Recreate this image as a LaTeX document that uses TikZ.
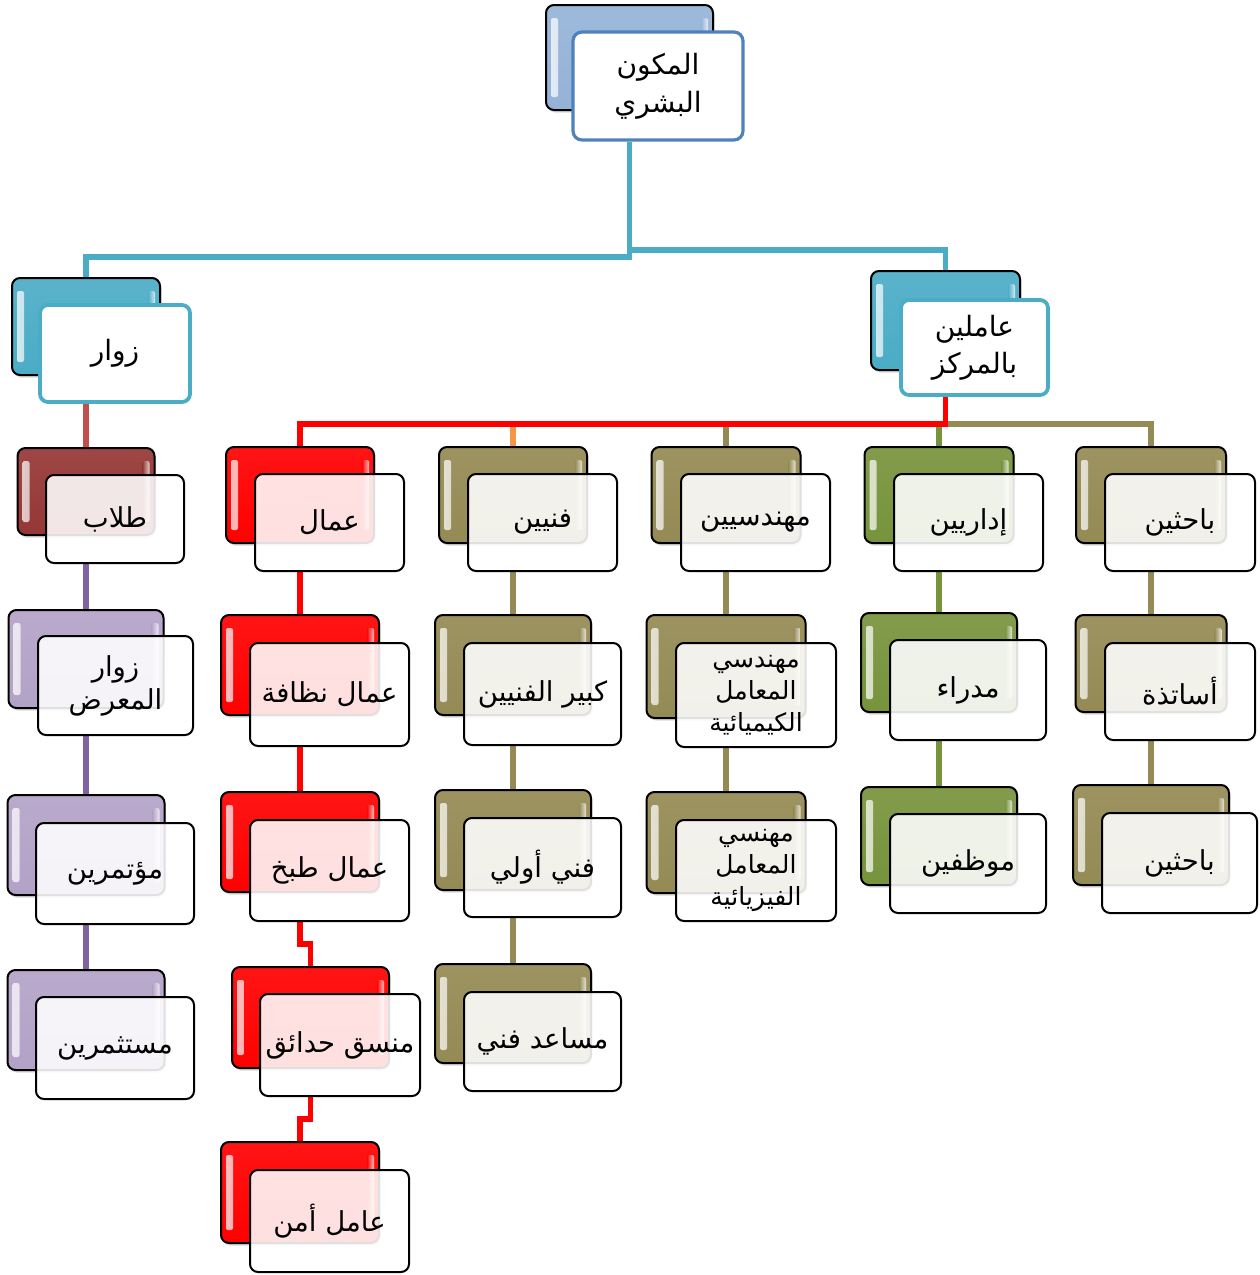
\documentclass[tikz,border=0pt]{standalone}
\usepackage{fontspec}
\TeXXeTstate=1
\newfontfamily\arfont[Script=Arabic]{DejaVu Sans}
\usetikzlibrary{shadows}
\pgfdeclarelayer{edges}
\pgfsetlayers{edges,main}

\definecolor{ctopblue}{HTML}{95B3D7}
\definecolor{ctopedge}{HTML}{4F81BD}
\definecolor{cteal}{HTML}{4BACC6}
\definecolor{cdarkred}{HTML}{953735}
\definecolor{cbrick}{HTML}{C0504D}
\definecolor{cpurple}{HTML}{8064A2}
\definecolor{clavender}{HTML}{B3A2C7}
\definecolor{cred}{HTML}{FF0000}
\definecolor{colive}{HTML}{948A54}
\definecolor{cgreen}{HTML}{77933C}
\definecolor{corange}{HTML}{F79646}

\newcommand\artext[1]{\beginR #1\endR}
\newcommand\backunit[5]{\node[backbox=#1,minimum width=#4pt,minimum height=#5pt] (#2) at (#3) {};}
\newcommand\frontunit[6]{\node[#1,minimum width=#4pt,minimum height=#5pt] (#2) at (#3) {#6};}

\tikzset{
  backbox/.style={draw=black, line width=2pt, rounded corners=8pt, inner sep=0pt,
    top color=#1!92!white, bottom color=#1,
    drop shadow={opacity=0.3, shadow xshift=1.5pt, shadow yshift=-2.5pt},
    path picture={
      \shade[left color=white, right color=#1, opacity=0.75, rounded corners=2pt]
        ([xshift=5pt,yshift=-13pt]path picture bounding box.north west) rectangle
        ([xshift=12pt,yshift=13pt]path picture bounding box.south west);
      \shade[left color=#1, right color=white, opacity=0.75, rounded corners=2pt]
        ([xshift=-12pt,yshift=-13pt]path picture bounding box.north east) rectangle
        ([xshift=-5pt,yshift=13pt]path picture bounding box.south east);
    }},
  frontbox/.style={draw=black, line width=2pt, rounded corners=8pt, fill=white,
    fill opacity=0.88, text opacity=1, inner sep=0pt, align=center,
    font=\arfont\fontsize{27.5}{33}\selectfont},
  smallfront/.style={frontbox, font=\arfont\fontsize{25}{32}\selectfont},
  rootfront/.style={draw=ctopedge, line width=3.2pt, rounded corners=9pt, fill=white,
    inner sep=0pt, align=center, font=\arfont\fontsize{28}{38}\selectfont},
  headfront/.style={draw=cteal, line width=3.8pt, rounded corners=8pt, fill=white,
    inner sep=0pt, align=center, font=\arfont\fontsize{28}{37}\selectfont},
  conn/.style={draw=#1, line width=5.5pt},
}

\begin{document}
\begin{tikzpicture}[x=1pt, y=-1pt]
\useasboundingbox (0,0) rectangle (1259,1275);

% root
\backunit{ctopblue}{top-b}{629.5,57.5}{167}{105}
\frontunit{rootfront}{top-f}{658,86}{170}{108}{\artext{المكون}\\\artext{البشري}}

% first level
\backunit{cteal}{zw-b}{86,326.5}{148}{97}
\frontunit{headfront}{zw-f}{115,353.5}{150}{97}{\artext{زوار}}
\backunit{cteal}{am-b}{945.5,320.5}{149}{99}
\frontunit{headfront}{am-f}{974.5,347.5}{147}{95}{\artext{عاملين}\\\artext{بالمركز}}

% visitors column
\backunit{cdarkred}{tl-b}{86,491.5}{137}{87}
\frontunit{frontbox}{tl-f}{115,519}{138}{88}{\artext{طلاب}}
\backunit{clavender}{zm-b}{86,659}{155}{98}
\frontunit{frontbox}{zm-f}{115.5,685.5}{155}{99}{\artext{زوار}\\\artext{المعرض}}
\backunit{clavender}{mt-b}{86,845}{157}{100}
\frontunit{frontbox}{mt-f}{115,873.5}{158}{101}{\artext{مؤتمرين}}
\backunit{clavender}{ms-b}{86,1020}{157}{100}
\frontunit{frontbox}{ms-f}{115,1048}{158}{102}{\artext{مستثمرين}}

% staff groups
\backunit{cred}{aml-b}{300,495}{148}{96}
\frontunit{frontbox}{aml-f}{329.5,522.5}{149}{97}{\artext{عمال}}
\backunit{colive}{fn-b}{513,495}{148}{96}
\frontunit{frontbox}{fn-f}{542.5,522.5}{149}{97}{\artext{فنيين}}
\backunit{colive}{mh-b}{726,495}{149}{96}
\frontunit{frontbox}{mh-f}{755.5,522.5}{149}{97}{\artext{مهندسيين}}
\backunit{cgreen}{id-b}{939,495}{149}{96}
\frontunit{frontbox}{id-f}{968.5,522.5}{149}{97}{\artext{إداريين}}
\backunit{colive}{bh-b}{1151,495}{150}{96}
\frontunit{frontbox}{bh-f}{1180,522.5}{150}{97}{\artext{باحثين}}

% workers column
\backunit{cred}{nz-b}{300,665}{158}{100}
\frontunit{frontbox}{nz-f}{329.5,694.5}{159}{103}{\artext{عمال نظافة}}
\backunit{cred}{tb-b}{300,842}{158}{100}
\frontunit{frontbox}{tb-f}{329.5,870.5}{159}{101}{\artext{عمال طبخ}}
\backunit{cred}{hd-b}{310.5,1017.5}{157}{101}
\frontunit{frontbox}{hd-f}{340,1045}{160}{102}{\artext{منسق حدائق}}
\backunit{cred}{amn-b}{300,1192.5}{158}{101}
\frontunit{frontbox}{amn-f}{329.5,1221}{159}{102}{\artext{عامل أمن}}

% technicians column
\backunit{colive}{kb-b}{513,665}{156}{100}
\frontunit{frontbox}{kb-f}{542.5,694}{157}{102}{\artext{كبير الفنيين}}
\backunit{colive}{aw-b}{513,840}{156}{100}
\frontunit{frontbox}{aw-f}{542.5,867.5}{157}{99}{\artext{فني أولي}}
\backunit{colive}{sd-b}{513,1013.5}{156}{99}
\frontunit{frontbox}{sd-f}{542.5,1041.5}{157}{99}{\artext{مساعد فني}}

% engineers column
\backunit{colive}{ch-b}{726,666.5}{159}{103}
\frontunit{smallfront}{ch-f}{756,695}{160}{104}{\artext{مهندسي}\\\artext{المعامل}\\\artext{الكيميائية}}
\backunit{colive}{ph-b}{726,842.5}{159}{101}
\frontunit{smallfront}{ph-f}{756,870.5}{160}{101}{\artext{مهنسي}\\\artext{المعامل}\\\artext{الفيزيائية}}

% administration column
\backunit{cgreen}{md-b}{939,662.5}{156}{99}
\frontunit{frontbox}{md-f}{968,690}{156}{100}{\artext{مدراء}}
\backunit{cgreen}{mw-b}{939,836}{156}{98}
\frontunit{frontbox}{mw-f}{968,863.5}{156}{99}{\artext{موظفين}}

% researchers column
\backunit{colive}{as-b}{1151,663.5}{151}{97}
\frontunit{frontbox}{as-f}{1180,691.5}{150}{97}{\artext{أساتذة}}
\backunit{colive}{bh2-b}{1151,835}{156}{100}
\frontunit{frontbox}{bh2-f}{1179.5,863}{155}{100}{\artext{باحثين}}

% connectors, drawn underneath the boxes
\begin{pgfonlayer}{edges}
\coordinate (busL) at (0,257);
\coordinate (busR) at (0,250);
\coordinate (bus2) at (0,424);

\draw[conn=cteal] (top-b |- top-f.south) -- (top-b |- busL) -| (zw-b.north);
\draw[conn=cteal] (top-b |- busR) -| (am-b.north);

\draw[conn=cbrick] (zw-b |- zw-f.south) -- (tl-b.north);
\draw[conn=cpurple] (tl-b |- tl-f.south) -- (zm-b.north);
\draw[conn=cpurple] (zm-b |- zm-f.south) -- (mt-b.north);
\draw[conn=cpurple] (mt-b |- mt-f.south) -- (ms-b.north);

\draw[conn=colive] (am-b |- bus2) -| (bh-b.north);
\draw[conn=colive] (am-b |- bus2) -| (mh-b.north);
\draw[conn=corange] (am-b |- bus2) -| (fn-b.north);
\draw[conn=cgreen] (am-b |- bus2) -| (id-b.north);
\draw[conn=cred] (am-b |- am-f.south) -- (am-b |- bus2) -| (aml-b.north);

\draw[conn=cred] (aml-b |- aml-f.south) -- (nz-b.north);
\draw[conn=cred] (nz-b |- nz-f.south) -- (tb-b.north);
\draw[conn=cred] (tb-b |- tb-f.south) -- ++(0,22) -| (hd-b.north);
\draw[conn=cred] (hd-b |- hd-f.south) -- ++(0,22) -| (amn-b.north);

\draw[conn=colive] (fn-b |- fn-f.south) -- (kb-b.north);
\draw[conn=colive] (kb-b |- kb-f.south) -- (aw-b.north);
\draw[conn=colive] (aw-b |- aw-f.south) -- (sd-b.north);

\draw[conn=colive] (mh-b |- mh-f.south) -- (ch-b.north);
\draw[conn=colive] (ch-b |- ch-f.south) -- (ph-b.north);

\draw[conn=cgreen] (id-b |- id-f.south) -- (md-b.north);
\draw[conn=cgreen] (md-b |- md-f.south) -- (mw-b.north);

\draw[conn=colive] (bh-b |- bh-f.south) -- (as-b.north);
\draw[conn=colive] (as-b |- as-f.south) -- (bh2-b.north);
\end{pgfonlayer}
\end{tikzpicture}
\end{document}
